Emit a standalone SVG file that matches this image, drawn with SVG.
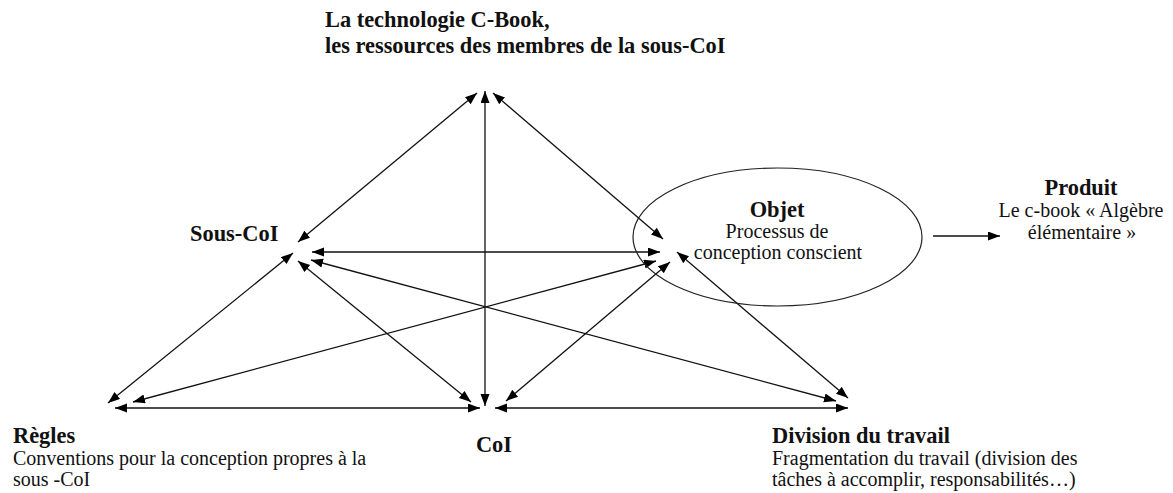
<svg xmlns="http://www.w3.org/2000/svg" width="1173" height="493" viewBox="0 0 1173 493">
  <style>
    .b { font-weight: bold; font-size: 22.4px; fill: #111; }
    .r { font-size: 20px; fill: #111; }
    .c { text-anchor: middle; }
    .ln { stroke: #111; stroke-width: 1.3; fill: none; }
    .dbl { marker-start: url(#ah); marker-end: url(#ah); }
  </style>
  <defs>
    <marker id="ah" markerUnits="userSpaceOnUse" markerWidth="13" markerHeight="10" refX="12" refY="4.5" orient="auto-start-reverse">
      <path d="M0,0 L12,4.5 L0,9 Z" fill="#000"/>
    </marker>
  </defs>
  <rect width="1173" height="493" fill="#fff"/>

  <g id="connectors">
    <line class="ln dbl" x1="477" y1="93" x2="298" y2="242"/>
    <line class="ln dbl" x1="485" y1="91" x2="485" y2="406"/>
    <line class="ln dbl" x1="493" y1="93" x2="663" y2="239"/>
    <line class="ln dbl" x1="312" y1="252" x2="660" y2="252"/>
    <line class="ln dbl" x1="311" y1="260" x2="836" y2="401"/>
    <line class="ln dbl" x1="298" y1="261" x2="471" y2="402"/>
    <line class="ln dbl" x1="108" y1="403" x2="293" y2="253"/>
    <line class="ln dbl" x1="133" y1="402" x2="656" y2="261"/>
    <line class="ln dbl" x1="506" y1="401" x2="670" y2="262"/>
    <line class="ln dbl" x1="677" y1="252" x2="848" y2="398"/>
    <line class="ln dbl" x1="115" y1="408" x2="480" y2="408"/>
    <line class="ln dbl" x1="495" y1="408" x2="848" y2="408"/>
    <line class="ln" x1="933" y1="236" x2="1000" y2="236" marker-end="url(#ah)"/>
  </g>

  <g font-family="'Liberation Serif', 'DejaVu Serif', serif">
  <g id="technologie">
    <text class="b" x="325" y="27">La technologie C-Book,</text>
    <text class="b" x="325" y="53">les ressources des membres de la sous-CoI</text>
  </g>

  <g id="sous-coi">
    <text class="b" x="190" y="241">Sous-CoI</text>
  </g>

  <g id="objet">
    <ellipse cx="777.5" cy="237" rx="144.5" ry="69" fill="none" stroke="#222" stroke-width="1.2"/>
    <text class="b c" x="777" y="217">Objet</text>
    <text class="r c" x="777" y="238">Processus de</text>
    <text class="r c" x="778" y="259">conception conscient</text>
  </g>

  <g id="produit">
    <text class="b c" x="1081" y="195">Produit</text>
    <text class="r c" x="1081" y="217">Le c-book « Algèbre</text>
    <text class="r c" x="1082" y="239">élémentaire »</text>
  </g>

  <g id="regles">
    <text class="b" x="13" y="443">Règles</text>
    <text class="r" x="13" y="465">Conventions pour la conception propres à la</text>
    <text class="r" x="13" y="486">sous -CoI</text>
  </g>

  <g id="coi">
    <text class="b c" x="494" y="452">CoI</text>
  </g>

  <g id="division">
    <text class="b" x="772" y="443">Division du travail</text>
    <text class="r" x="772" y="465">Fragmentation du travail (division des</text>
    <text class="r" x="772" y="486">tâches à accomplir, responsabilités…)</text>
  </g>
  </g>
</svg>
